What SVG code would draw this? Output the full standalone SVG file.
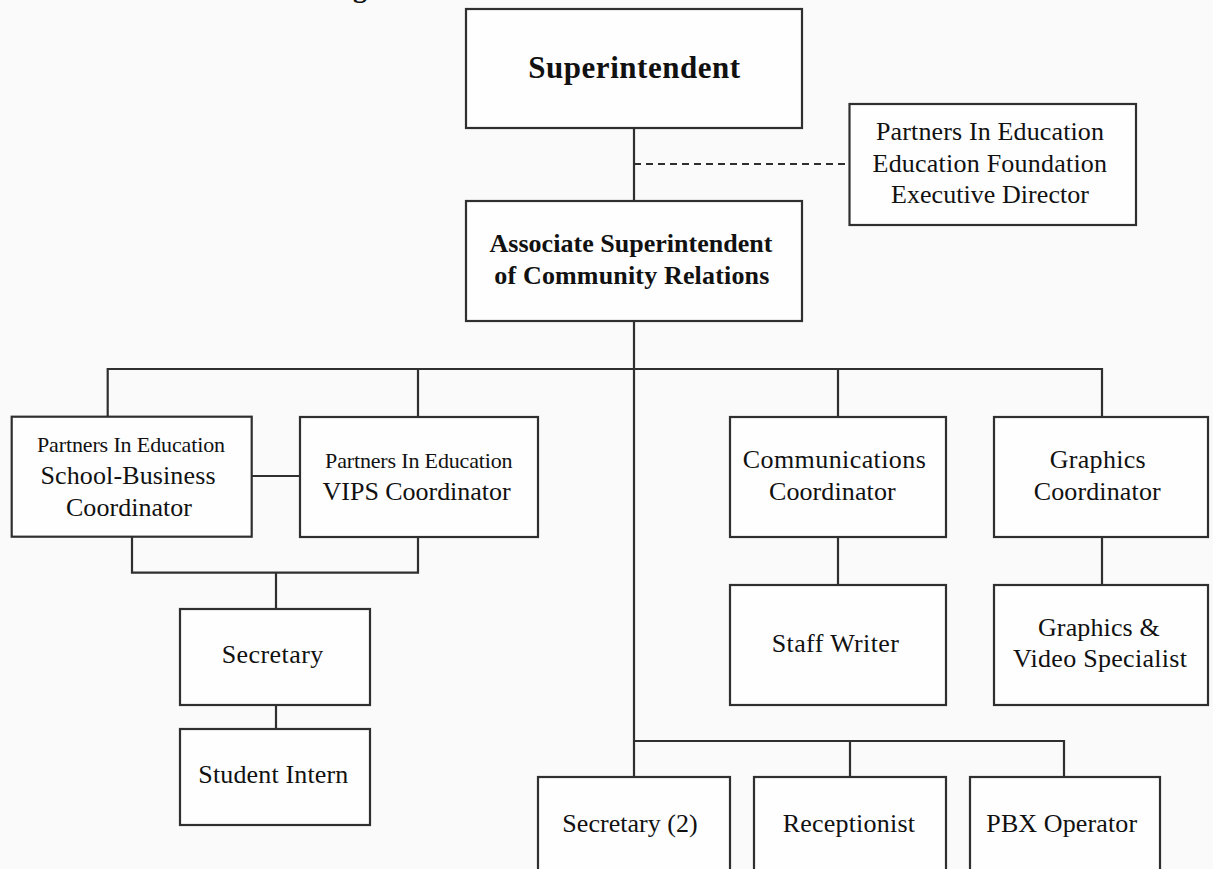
<svg xmlns="http://www.w3.org/2000/svg" width="1213" height="869" viewBox="0 0 1213 869">
<style>
.box{fill:#fefefe;stroke:#2f2f2f;stroke-width:2.2}
.ln{fill:none;stroke:#2f2f2f;stroke-width:2.2}
.dash{fill:none;stroke:#2f2f2f;stroke-width:1.8;stroke-dasharray:7 5}
text{font-family:"Liberation Serif","Times New Roman",serif;fill:#111;text-anchor:middle;font-size:26px}
.b{font-weight:bold}
.sm{font-size:22px}
</style>
<rect x="0" y="0" width="1213" height="869" fill="#fafafa"/>
<g id="title-fragment"><text class="b" x="360" y="-3" style="font-size:28px">g</text></g>
<g id="connectors">
<path class="ln" d="M634 128V201"/>
<path class="dash" d="M634 164H849.5"/>
<path class="ln" d="M634 321V777"/>
<path class="ln" d="M107.7 417V369H1102V417M418 369V417M838 369V417"/>
<path class="ln" d="M251.7 476H300"/>
<path class="ln" d="M132 536.7V572.7H418V537M276 572.7V609"/>
<path class="ln" d="M276 705V729"/>
<path class="ln" d="M838 537V585"/>
<path class="ln" d="M1102 537V585"/>
<path class="ln" d="M634 741H1064V777M850 741V777"/>
</g>
<g id="superintendent"><rect class="box" x="466" y="9" width="336" height="119"/><text class="b" x="634.2" y="78" style="font-size:31px" textLength="212" lengthAdjust="spacing">Superintendent</text></g>
<g id="associate"><rect class="box" x="466" y="201" width="336" height="120"/><text class="b" x="631" y="252" textLength="283" lengthAdjust="spacing">Associate Superintendent</text><text class="b" x="631.8" y="284" textLength="275" lengthAdjust="spacing">of Community Relations</text></g>
<g id="foundation"><rect class="box" x="849.5" y="104" width="286.5" height="121"/><text x="990" y="140" textLength="228" lengthAdjust="spacing">Partners In Education</text><text x="989.8" y="172" textLength="234.5" lengthAdjust="spacing">Education Foundation</text><text x="990" y="203" textLength="198" lengthAdjust="spacing">Executive Director</text></g>
<g id="school-business"><rect class="box" x="11.7" y="416.7" width="240" height="120"/><text class="sm" x="131" y="452" textLength="188" lengthAdjust="spacing">Partners In Education</text><text x="128" y="484" textLength="175" lengthAdjust="spacing">School-Business</text><text x="129" y="516" textLength="126" lengthAdjust="spacing">Coordinator</text></g>
<g id="vips"><rect class="box" x="300" y="417" width="238" height="120"/><text class="sm" x="418.8" y="467.5" textLength="187.5" lengthAdjust="spacing">Partners In Education</text><text x="416.6" y="499.5" textLength="188" lengthAdjust="spacing">VIPS Coordinator</text></g>
<g id="communications"><rect class="box" x="730" y="417" width="216" height="120"/><text x="834.3" y="468" textLength="183" lengthAdjust="spacing">Communications</text><text x="832.3" y="500" textLength="126.7" lengthAdjust="spacing">Coordinator</text></g>
<g id="graphics"><rect class="box" x="994" y="417" width="214" height="120"/><text x="1097.7" y="468" textLength="96" lengthAdjust="spacing">Graphics</text><text x="1097.2" y="500" textLength="127" lengthAdjust="spacing">Coordinator</text></g>
<g id="staff-writer"><rect class="box" x="730" y="585" width="216" height="120"/><text x="835.3" y="652" textLength="127.3" lengthAdjust="spacing">Staff Writer</text></g>
<g id="graphics-video"><rect class="box" x="994" y="585" width="214" height="120"/><text x="1098.8" y="636" textLength="121.7" lengthAdjust="spacing">Graphics &amp;</text><text x="1100" y="667" textLength="174" lengthAdjust="spacing">Video Specialist</text></g>
<g id="secretary"><rect class="box" x="180" y="609" width="190" height="96"/><text x="272.5" y="663" textLength="101.7" lengthAdjust="spacing">Secretary</text></g>
<g id="student-intern"><rect class="box" x="180" y="729" width="190" height="96"/><text x="273.3" y="783" textLength="150" lengthAdjust="spacing">Student Intern</text></g>
<g id="secretary-2"><rect class="box" x="538" y="777" width="192" height="110"/><text x="630" y="832" textLength="135.3" lengthAdjust="spacing">Secretary (2)</text></g>
<g id="receptionist"><rect class="box" x="754" y="777" width="192" height="110"/><text x="848.8" y="832" textLength="132.3" lengthAdjust="spacing">Receptionist</text></g>
<g id="pbx-operator"><rect class="box" x="970" y="777" width="190" height="110"/><text x="1061.7" y="832" textLength="150.7" lengthAdjust="spacing">PBX Operator</text></g>
</svg>
